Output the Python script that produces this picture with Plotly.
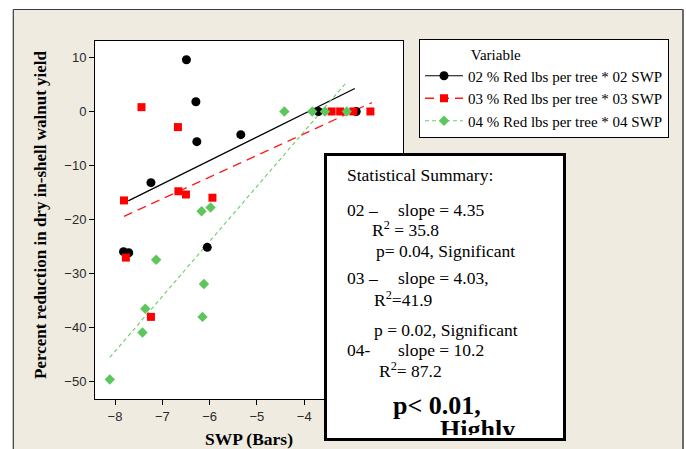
import plotly.graph_objects as go

W, H = 686, 449

# Stem water potential (bars) and percent yield reduction, per season
swp_02 = [-6.49, -6.29, -6.27, -5.34, -7.24, -6.05, -7.82, -7.71, -3.70, -2.90]
red_02 = [9.6, 1.8, -5.6, -4.3, -13.2, -25.2, -26.0, -26.2, 0.0, 0.0]

swp_03 = [-7.44, -6.67, -7.81, -6.66, -6.50, -5.94, -7.77, -7.24, -3.42, -3.24, -2.96, -2.60]
red_03 = [0.8, -2.9, -16.5, -14.8, -15.4, -16.0, -27.1, -38.1, 0.0, 0.0, 0.0, 0.0]

swp_04 = [-4.42, -3.83, -3.56, -3.10, -6.17, -5.98, -7.13, -6.12, -7.36, -6.15, -7.42, -8.11]
red_04 = [0.0, 0.0, 0.0, 0.0, -18.5, -17.8, -27.5, -32.0, -36.6, -38.1, -41.0, -49.7]

series_names = [
    "02 % Red lbs per tree * 02 SWP",
    "03 % Red lbs per tree * 03 SWP",
    "04 % Red lbs per tree * 04 SWP",
]
marker_colors = ["#000000", "#ff0000", "#5cc65c"]
line_colors = ["#000000", "#ff1a1a", "#6acd6a"]
symbols = ["circle", "square", "diamond"]
marker_sizes = [9, 8, 8]
dashes = ["solid", "9px,6px", "4px,3px"]
line_widths = [1.2, 1.3, 1.1]

# Regression fits: slope from the summary, intercept and x-extent of each fit
fit_slope = [4.35, 4.03, 10.2]
fit_intercept = [17.0, 12.0, 37.1]
fit_x_start = [-7.72, -7.81, -8.11]
fit_x_end = [-2.93, -2.57, -3.11]

x_ticks = [-8, -7, -6, -5, -4]
y_ticks = [-50, -40, -30, -20, -10, 0, 10]

xs = [swp_02, swp_03, swp_04]
ys = [red_02, red_03, red_04]

SERIF = "Liberation Serif"
SANS = "Liberation Sans"


def px(x):
    return x / W


def py(y):
    return 1 - y / H


fig = go.Figure()

# fitted lines
for i in range(3):
    fx = [fit_x_start[i], fit_x_end[i]]
    fy = [fit_slope[i] * v + fit_intercept[i] for v in fx]
    fig.add_trace(go.Scatter(
        x=fx, y=fy, mode="lines", showlegend=False, hoverinfo="skip",
        line=dict(color=line_colors[i], width=line_widths[i], dash=dashes[i]),
    ))

# observations
for i in range(3):
    fig.add_trace(go.Scatter(
        x=xs[i], y=ys[i], mode="markers", showlegend=False,
        marker=dict(symbol=symbols[i], size=marker_sizes[i], color=marker_colors[i],
                    line=dict(width=0)),
    ))

# legend entries (line + marker)
for i in range(3):
    fig.add_trace(go.Scatter(
        x=[None], y=[None], mode="lines+markers", name=series_names[i],
        marker=dict(symbol=symbols[i], size=marker_sizes[i], color=marker_colors[i],
                    line=dict(width=0)),
        line=dict(color=line_colors[i], width=line_widths[i], dash=dashes[i]),
    ))

# summary box (white panel with heavy border)
fig.add_trace(go.Scatter(
    x=[0, 1, 1, 0, 0], y=[0, 0, 1, 1, 0], xaxis="x2", yaxis="y2",
    mode="lines", fill="toself", fillcolor="white",
    line=dict(color="black", width=6), showlegend=False, hoverinfo="skip",
))

# last line of the summary, clipped by the panel
fig.add_trace(go.Scatter(
    x=[440], y=[431], xaxis="x3", yaxis="y3", mode="text",
    text=["Highly"], textposition="middle right",
    textfont=dict(family=SERIF, size=26, color="black", weight="bold"),
    showlegend=False, hoverinfo="skip", cliponaxis=True,
))

annotations = []


def note(text, x, y, size=17.5, bold=False, anchor="left"):
    annotations.append(dict(
        text=text, x=px(x), y=py(y), xref="paper", yref="paper",
        xanchor=anchor, yanchor="middle", showarrow=False,
        font=dict(family=SERIF, size=size, color="black",
                  weight="bold" if bold else "normal"),
    ))


note("Statistical Summary:", 345, 175)
note("02 –", 345, 210)
note("slope = 4.35", 396, 210)
note("R<sup>2</sup> = 35.8", 370, 229)
note("p= 0.04, Significant", 374, 251)
note("03 –", 345, 278)
note("slope = 4.03,", 396, 278)
note("R<sup>2</sup>=41.9", 372, 299)
note("p = 0.02, Significant", 372, 330)
note("04-", 345, 350)
note("slope = 10.2", 396, 350)
note("R<sup>2</sup>= 87.2", 377, 370)
note("p&lt; 0.01,", 391, 405, size=26, bold=True)

# axis titles
annotations.append(dict(
    text="SWP (Bars)", x=px(249), y=py(439), xref="paper", yref="paper",
    xanchor="center", yanchor="middle", showarrow=False,
    font=dict(family=SERIF, size=17.5, color="black", weight="bold"),
))
annotations.append(dict(
    text="Percent reduction in dry in-shell walnut yield", x=px(41), y=py(215),
    xref="paper", yref="paper", xanchor="center", yanchor="middle",
    showarrow=False, textangle=-90,
    font=dict(family=SERIF, size=17, color="black", weight="bold"),
))

beige = "#efebe1"
shapes = [
    # white surround outside the frame
    dict(type="rect", xref="paper", yref="paper", x0=0, x1=px(13), y0=-0.1, y1=1.1,
         fillcolor="white", line=dict(width=0), layer="below"),
    dict(type="rect", xref="paper", yref="paper", x0=0, x1=1.1, y0=py(9.5), y1=1.1,
         fillcolor="white", line=dict(width=0), layer="below"),
    dict(type="rect", xref="paper", yref="paper", x0=px(684), x1=1.1, y0=-0.1, y1=1.1,
         fillcolor="white", line=dict(width=0), layer="below"),
    # frame lines
    dict(type="line", xref="paper", yref="paper", x0=px(13.3), x1=px(13.3), y0=py(9.5), y1=-0.1,
         line=dict(color="#3a3a3a", width=1.2), layer="below"),
    dict(type="line", xref="paper", yref="paper", x0=px(13.3), x1=px(683), y0=py(9.5), y1=py(9.5),
         line=dict(color="#3a3a3a", width=1.2), layer="below"),
    dict(type="line", xref="paper", yref="paper", x0=px(683), x1=px(683), y0=py(9.5), y1=-0.1,
         line=dict(color="#6a6a6a", width=2), layer="below"),
]

tick_font = dict(family=SANS, size=13, color="#2a2a2a")

fig.update_layout(
    width=W, height=H,
    margin=dict(l=0, r=0, t=0, b=0),
    paper_bgcolor=beige, plot_bgcolor="white",
    showlegend=True,
    xaxis=dict(
        domain=[px(95), px(403)], range=[-8.423, -1.911],
        tickvals=x_ticks, ticks="outside", ticklen=5, tickcolor="black",
        showline=True, linecolor="black", linewidth=1, mirror=True,
        showgrid=False, zeroline=False, tickfont=tick_font, automargin=False,
        fixedrange=True,
    ),
    yaxis=dict(
        domain=[py(399), py(41)], range=[-53.33, 13.07],
        tickvals=y_ticks, ticks="outside", ticklen=5, tickcolor="black",
        showline=True, linecolor="black", linewidth=1, mirror=True,
        showgrid=False, zeroline=False, tickfont=tick_font, automargin=False,
        fixedrange=True,
    ),
    xaxis2=dict(domain=[px(324), px(566)], range=[0, 1], visible=False,
                anchor="y2", fixedrange=True),
    yaxis2=dict(domain=[py(441), py(153)], range=[0, 1], visible=False,
                anchor="x2", fixedrange=True),
    xaxis3=dict(domain=[px(327), px(563)], range=[327, 563], visible=False,
                anchor="y3", fixedrange=True),
    yaxis3=dict(domain=[py(435), py(156)], range=[435, 156], visible=False,
                anchor="x3", fixedrange=True),
    legend=dict(
        x=px(419), y=py(39), xanchor="left", yanchor="top",
        bgcolor="white", bordercolor="black", borderwidth=1,
        font=dict(family=SERIF, size=15, color="black"),
        title=dict(text="&nbsp;" * 13 + "Variable",
                   font=dict(family=SERIF, size=15, color="black")),
        itemwidth=38, tracegroupgap=0,
    ),
    annotations=annotations,
    shapes=shapes,
)

fig.write_html("out.html")
